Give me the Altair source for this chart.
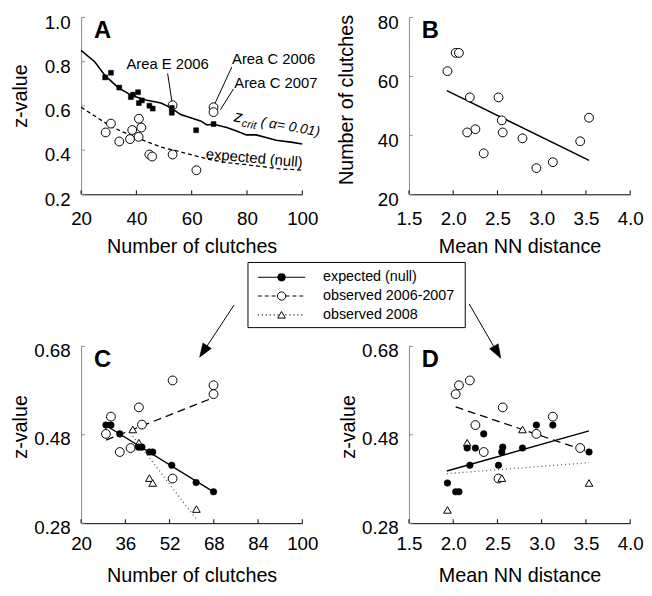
import altair as alt
import pandas as pd

FONT = "Liberation Sans"
W, H = 224, 179
GRAY = "#8a8a8a"

# ---------------- Panel A ----------------
a_crit_n = [20, 25, 28.7, 33.4, 38.2, 42.9, 48.9, 52.5, 56, 59.6, 63.2, 65.5, 67.9, 72.7, 76.2, 79.8, 83.3, 86.9, 90.5, 96.5, 100]
a_crit_z = [0.851, 0.799, 0.737, 0.683, 0.648, 0.628, 0.613, 0.591, 0.561, 0.546, 0.532, 0.514, 0.517, 0.502, 0.487, 0.469, 0.469, 0.457, 0.445, 0.435, 0.428]
a_null_n = [20, 25, 31, 37, 43, 49, 55, 61, 67, 73, 79, 85, 91, 100]
a_null_z = [0.594, 0.554, 0.505, 0.472, 0.442, 0.413, 0.395, 0.375, 0.356, 0.343, 0.335, 0.326, 0.316, 0.309]
a_sq_n = [28.7, 30.8, 33.8, 38.0, 38.8, 40.6, 40.9, 42.0, 44.7, 45.9, 52.8, 52.8, 61.6, 67.9]
a_sq_z = [0.729, 0.750, 0.683, 0.640, 0.651, 0.662, 0.613, 0.625, 0.601, 0.588, 0.591, 0.569, 0.490, 0.518]
a_obs_n = [28.9, 30.8, 33.8, 37.7, 38.5, 40.8, 40.9, 41.8, 44.7, 45.7, 53.1, 53.1, 61.7, 67.9, 67.9]
a_obs_z = [0.480, 0.520, 0.439, 0.450, 0.491, 0.460, 0.542, 0.502, 0.380, 0.371, 0.380, 0.603, 0.309, 0.594, 0.572]
a_xticks = [20, 40, 60, 80, 100]
a_yticks = [0.2, 0.4, 0.6, 0.8, 1.0]
a_labels = ["Area E 2006", "Area C 2006", "Area C 2007"]
a_label_n = [36.4, 74.6, 75.4]
a_label_z = [0.788, 0.810, 0.703]
a_lead_n1 = [51.3, 74.5, 75.1]
a_lead_z1 = [0.747, 0.776, 0.677]
a_lead_n2 = [52.9, 68.3, 70.4]
a_lead_z2 = [0.616, 0.608, 0.583]

# ---------------- Panel B ----------------
b_nn = [1.935, 2.028, 2.065, 2.188, 2.158, 2.251, 2.345, 2.512, 2.549, 2.560, 2.783, 2.940, 3.126, 3.435, 3.535]
b_n = [61.8, 68.0, 68.0, 52.9, 41.0, 42.1, 33.9, 52.9, 45.1, 41.0, 39.0, 28.9, 30.9, 38.0, 46.0]
b_fit_nn = [1.928, 3.535]
b_fit_n = [55.2, 31.5]
b_xticks = [1.5, 2.0, 2.5, 3.0, 3.5, 4.0]
b_yticks = [20, 40, 60, 80]

# ---------------- Panel C ----------------
c_null_n = [29.0, 30.8, 34.0, 40.8, 42.0, 44.7, 45.9, 52.8, 61.6, 67.9]
c_null_z = [0.502, 0.502, 0.482, 0.452, 0.452, 0.441, 0.441, 0.411, 0.372, 0.351]
c_obs_n = [29.0, 30.8, 34.0, 37.9, 40.9, 42.0, 53.1, 53.1, 67.9, 67.9]
c_obs_z = [0.482, 0.521, 0.441, 0.450, 0.542, 0.503, 0.603, 0.381, 0.592, 0.572]
c_o08_n = [38.7, 40.9, 44.7, 45.9, 61.7]
c_o08_z = [0.492, 0.462, 0.382, 0.371, 0.312]
c_fit_null = ([29.0, 67.9], [0.501, 0.351])
c_fit_obs = ([29.0, 67.9], [0.468, 0.564])
c_fit_o08 = ([38.7, 61.7], [0.477, 0.289])
c_xticks = [20, 36, 52, 68, 84, 100]
cd_yticks = [0.28, 0.48, 0.68]

# ---------------- Panel D ----------------
d_null_nn = [1.935, 2.028, 2.065, 2.158, 2.251, 2.188, 2.345, 2.512, 2.549, 2.560, 2.783, 2.940, 3.126, 3.535]
d_null_z = [0.371, 0.351, 0.351, 0.450, 0.450, 0.411, 0.482, 0.411, 0.441, 0.452, 0.450, 0.502, 0.502, 0.441]
d_obs_nn = [2.028, 2.065, 2.188, 2.251, 2.345, 2.560, 2.512, 2.940, 3.126, 3.435]
d_obs_z = [0.572, 0.592, 0.603, 0.502, 0.441, 0.542, 0.381, 0.482, 0.521, 0.450]
d_o08_nn = [1.935, 2.158, 2.549, 2.783, 3.535]
d_o08_z = [0.310, 0.462, 0.382, 0.492, 0.371]
d_fit_null = ([1.928, 3.535], [0.398, 0.489])
d_fit_obs = ([2.028, 3.535], [0.543, 0.441])
d_fit_o08 = ([1.928, 3.535], [0.392, 0.417])

legend_labels = ["expected (null)", "observed 2006-2007", "observed 2008"]


def frame(**cols):
    return pd.DataFrame(cols)


def enc(xdom, ydom, xticks, yticks, xfmt, yfmt, xtitle, ytitle, xpad, ytx, yty, yoff):
    X = alt.X("x:Q", scale=alt.Scale(domain=xdom, nice=False, zero=False),
              axis=alt.Axis(values=xticks, format=xfmt, title=xtitle, labelFlush=False,
                            ticks=False, labelPadding=xpad, domainColor="black", domainWidth=1,
                            titleX=W / 2, titleY=53, titleBaseline="middle", titleAlign="center",
                            grid=False, labelOverlap=False))
    Y = alt.Y("y:Q", scale=alt.Scale(domain=ydom, nice=False, zero=False),
              axis=alt.Axis(values=yticks, format=yfmt, title=ytitle, ticks=False, labelPadding=11,
                            labelOffset=yoff, labelFlush=False, domainColor=GRAY, domainWidth=1,
                            titleX=ytx, titleY=yty, titleBaseline="middle", titleAlign="center",
                            titleAngle=270, grid=False, labelOverlap=False))
    return X, Y


def line(xs, ys, X, Y, dash=None, color="black", width=1.4):
    kw = dict(color=color, strokeWidth=width)
    if dash:
        kw["strokeDash"] = dash
    return alt.Chart(frame(x=xs, y=ys)).mark_line(**kw).encode(x=X, y=Y)


def pts(xs, ys, X, Y, shape, black, size):
    if black:
        m = dict(shape=shape, filled=True, fill="black", stroke="black", strokeWidth=0.5, size=size, opacity=1)
    else:
        m = dict(shape=shape, filled=True, fill="white", stroke="black", strokeWidth=1, size=size, opacity=1)
    return alt.Chart(frame(x=xs, y=ys)).mark_point(**m).encode(x=X, y=Y)


def ticks(xticks, yticks, X, Y):
    tx = alt.Chart(frame(x=xticks)).mark_rule(color="black", strokeWidth=1).encode(
        x=X, y=alt.value(H), y2=alt.value(H - 4))
    ty = alt.Chart(frame(y=yticks)).mark_rule(color=GRAY, strokeWidth=1).encode(
        y=Y, x=alt.value(0), x2=alt.value(4))
    return [tx, ty]


def letter(s):
    return alt.Chart(frame(t=[s])).mark_text(align="left", baseline="top", font=FONT, fontSize=24,
                                             fontWeight="bold", color="black").encode(
        text="t:N", x=alt.value(13), y=alt.value(2))


# ---------------- build A ----------------
XA, YA = enc([20, 100], [0.2, 1.0], a_xticks, a_yticks, "d", ".1f", "Number of clutches", "z-value", 16, -61, 79, 5)
lead = alt.Chart(frame(x=a_lead_n1, y=a_lead_z1, x2=a_lead_n2, y2=a_lead_z2)).mark_rule(
    color="black", strokeWidth=1).encode(x=XA, y=YA, x2="x2:Q", y2="y2:Q")
alabels = alt.Chart(frame(x=a_label_n, y=a_label_z, t=a_labels)).mark_text(
    align="left", baseline="middle", font=FONT, fontSize=15, color="black").encode(x=XA, y=YA, text="t:N")
zc1 = alt.Chart(frame(x=[75.0], y=[0.5307], t=["z"])).mark_text(
    align="left", baseline="alphabetic", font=FONT, fontSize=17, fontStyle="italic", angle=10, color="black").encode(x=XA, y=YA, text="t:N")
zc2 = alt.Chart(frame(x=[77.96], y=[0.5066], t=["crit"])).mark_text(
    align="left", baseline="alphabetic", font=FONT, fontSize=11, fontStyle="italic", angle=10, color="black").encode(x=XA, y=YA, text="t:N")
zc3 = alt.Chart(frame(x=[84.75], y=[0.5093], t=["( \u03b1= 0.01)"])).mark_text(
    align="left", baseline="alphabetic", font=FONT, fontSize=14, fontStyle="italic", angle=10, color="black").encode(x=XA, y=YA, text="t:N")
exl = alt.Chart(frame(x=[65.0], y=[0.3609], t=["expected (null)"])).mark_text(
    align="left", baseline="alphabetic", font=FONT, fontSize=15, angle=5, color="black").encode(x=XA, y=YA, text="t:N")

A = alt.layer(
    line(a_crit_n, a_crit_z, XA, YA, width=1.6),
    line(a_null_n, a_null_z, XA, YA, dash=[4, 3], width=1.3),
    lead,
    pts(a_obs_n, a_obs_z, XA, YA, "circle", False, 80),
    pts(a_sq_n, a_sq_z, XA, YA, "square", True, 25),
    alabels, zc1, zc2, zc3, exl,
    *ticks(a_xticks, a_yticks, XA, YA),
    letter("A"),
).properties(width=W, height=H)

# ---------------- build B ----------------
XB, YB = enc([1.5, 4.0], [20, 80], b_xticks, b_yticks, ".1f", "d", "Mean NN distance", "Number of clutches", 16, -63, 83, 5)
B = alt.layer(
    line(b_fit_nn, b_fit_n, XB, YB, width=1.4),
    pts(b_nn, b_n, XB, YB, "circle", False, 80),
    *ticks(b_xticks, b_yticks, XB, YB),
    letter("B"),
).properties(width=W, height=H)

# ---------------- build C ----------------
XC, YC = enc([20, 100], [0.28, 0.68], c_xticks, cd_yticks, "d", ".2f", "Number of clutches", "z-value", 12, -61, 81, 4)


def legend_layers():
    box = alt.Chart(frame(t=[0])).mark_rect(fill="white", stroke="black", strokeWidth=1).encode(
        x=alt.value(169), x2=alt.value(389), y=alt.value(-85), y2=alt.value(-19))
    rows = [-70, -51, -32]
    out = [box]
    dashes = [None, [4, 3], [1, 3]]
    for r, d in zip(rows, dashes):
        kw = dict(color="black", strokeWidth=1.2)
        if d:
            kw["strokeDash"] = d
        out.append(alt.Chart(frame(t=[0])).mark_rule(**kw).encode(
            x=alt.value(179), x2=alt.value(227), y=alt.value(r)))
    out.append(alt.Chart(frame(t=[0])).mark_point(shape="circle", filled=True, fill="black", stroke="black",
                                                 size=40, opacity=1).encode(x=alt.value(203), y=alt.value(rows[0])))
    out.append(alt.Chart(frame(t=[0])).mark_point(shape="circle", filled=True, fill="white", stroke="black",
                                                 strokeWidth=1, size=70, opacity=1).encode(x=alt.value(203), y=alt.value(rows[1])))
    out.append(alt.Chart(frame(t=[0])).mark_point(shape="triangle-up", filled=True, fill="white", stroke="black",
                                                 strokeWidth=1, size=60, opacity=1).encode(x=alt.value(203), y=alt.value(rows[2])))
    for r, lab in zip(rows, legend_labels):
        out.append(alt.Chart(frame(t=[lab])).mark_text(align="left", baseline="middle", font=FONT, fontSize=14.5,
                                                       color="black").encode(text="t:N", x=alt.value(245), y=alt.value(r)))
    arrow_shape = "M0,0 L-0.36,-1 L0.36,-1 Z"
    out.append(alt.Chart(frame(t=[0])).mark_rule(color="black", strokeWidth=1).encode(
        x=alt.value(155), y=alt.value(-42), x2=alt.value(122), y2=alt.value(8)))
    out.append(alt.Chart(frame(t=[0])).mark_point(shape=arrow_shape, filled=True, fill="black", stroke="black",
                                                 strokeWidth=0.5, size=784, angle=33, opacity=1).encode(
        x=alt.value(120), y=alt.value(11)))
    out.append(alt.Chart(frame(t=[0])).mark_rule(color="black", strokeWidth=1).encode(
        x=alt.value(393), y=alt.value(-43), x2=alt.value(423), y2=alt.value(9)))
    out.append(alt.Chart(frame(t=[0])).mark_point(shape=arrow_shape, filled=True, fill="black", stroke="black",
                                                 strokeWidth=0.5, size=784, angle=330, opacity=1).encode(
        x=alt.value(425), y=alt.value(12)))
    return out


C = alt.layer(
    line(*c_fit_null, XC, YC, width=1.4),
    line(*c_fit_obs, XC, YC, dash=[8, 5], width=1.3),
    line(*c_fit_o08, XC, YC, dash=[1, 3], color="#555555", width=1.3),
    pts(c_obs_n, c_obs_z, XC, YC, "circle", False, 80),
    pts(c_o08_n, c_o08_z, XC, YC, "triangle-up", False, 60),
    pts(c_null_n, c_null_z, XC, YC, "circle", True, 45),
    *ticks(c_xticks, cd_yticks, XC, YC),
    letter("C"),
    *legend_layers(),
).properties(width=W, height=H)

# ---------------- build D ----------------
XD, YD = enc([1.5, 4.0], [0.28, 0.68], b_xticks, cd_yticks, ".1f", ".2f", "Mean NN distance", "z-value", 12, -61, 81, 4)
D = alt.layer(
    line(*d_fit_null, XD, YD, width=1.4),
    line(*d_fit_obs, XD, YD, dash=[8, 5], width=1.3),
    line(*d_fit_o08, XD, YD, dash=[1, 3], color="#555555", width=1.3),
    pts(d_obs_nn, d_obs_z, XD, YD, "circle", False, 80),
    pts(d_o08_nn, d_o08_z, XD, YD, "triangle-up", False, 60),
    pts(d_null_nn, d_null_z, XD, YD, "circle", True, 45),
    *ticks(b_xticks, cd_yticks, XD, YD),
    letter("D"),
).properties(width=W, height=H)

chart = alt.concat(A, B, C, D, columns=2, spacing={"row": 154, "column": 108}, bounds="flush").properties(
    padding={"left": 3, "top": 2, "right": 0, "bottom": 0}, background="white"
).configure_view(stroke=None).configure_axis(
    labelFont=FONT, labelFontSize=19, labelColor="black",
    titleFont=FONT, titleFontSize=20, titleFontWeight="normal", titleColor="black",
)

chart.save("out.html", embed_options={"renderer": "svg", "actions": False})
